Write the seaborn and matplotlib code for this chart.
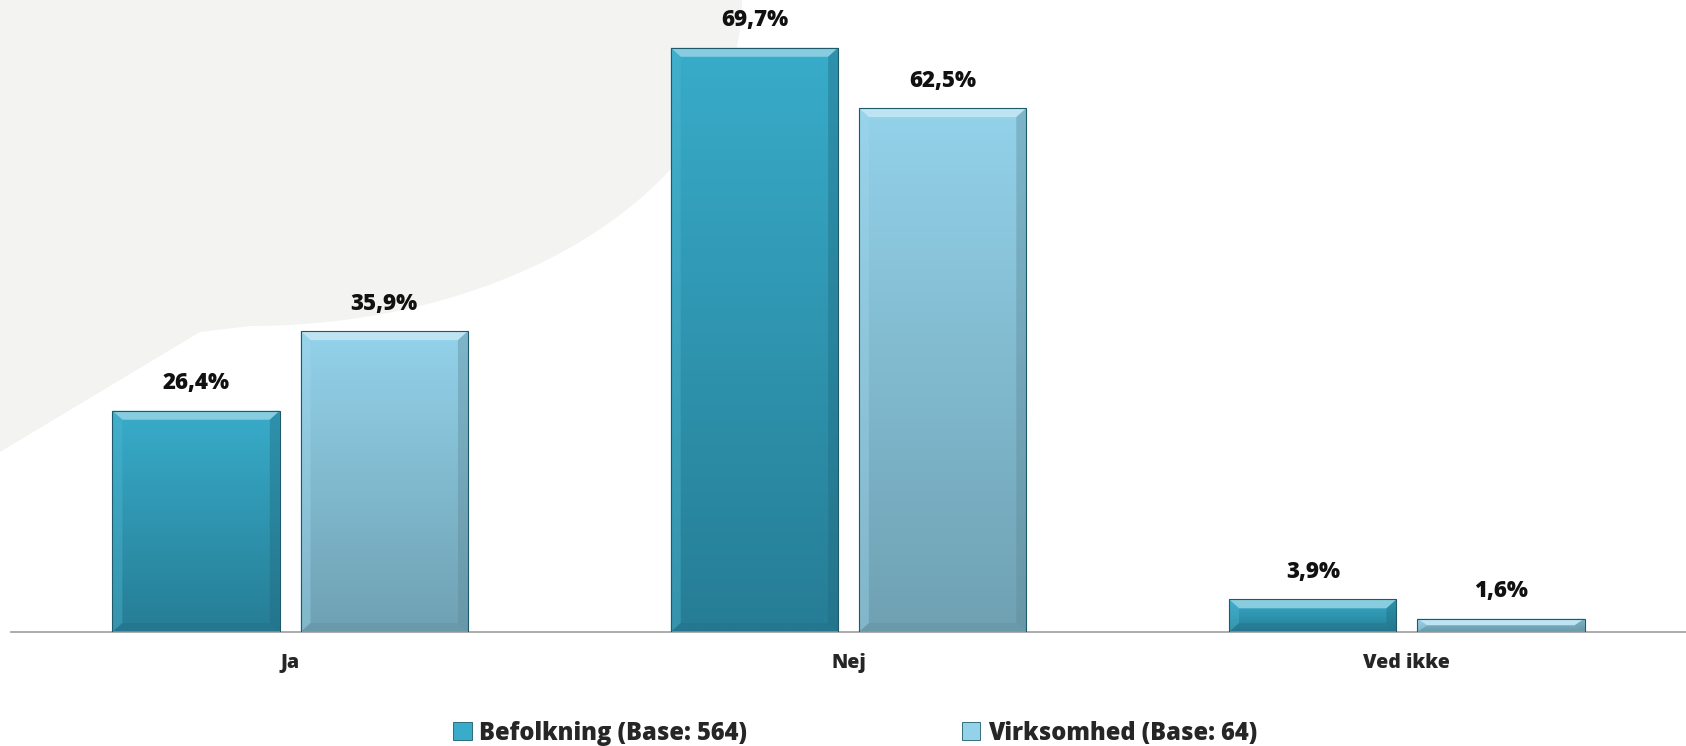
import numpy as np
import pandas as pd
import seaborn as sns
import matplotlib.pyplot as plt
from matplotlib.path import Path
from matplotlib.patches import PathPatch, Polygon, Patch
from matplotlib.colors import to_rgb

svar = ["Ja", "Nej", "Ved ikke"]
befolkning = [26.4, 69.7, 3.9]
virksomhed = [35.9, 62.5, 1.6]
grupper = ["Befolkning (Base: 564)", "Virksomhed (Base: 64)"]

df = pd.DataFrame({
    "svar": svar * 2,
    "pct": befolkning + virksomhed,
    "gruppe": [grupper[0]] * 3 + [grupper[1]] * 3,
})

# top / bottom colours of the gradient per series
farver = {
    grupper[0]: ("#38acca", "#267d95"),
    grupper[1]: ("#93d2ea", "#6fa1b3"),
}

sns.set_style("white")
plt.rcParams["font.family"] = ["Open Sans", "DejaVu Sans"]

W, H = 1686, 746
fig = plt.figure(figsize=(W / 100, H / 100), dpi=100)
ax = fig.add_axes([11 / W, (H - 632) / H, 1675 / W, 632 / H])
ax.set_facecolor("none")

# grey decorative shape in top left corner (behind everything)
t = np.linspace(0, np.pi / 2, 60)
arc = np.column_stack([250 + 492 * np.cos(t), 326 * np.sin(t)])
pts = np.vstack([[[0, 0], [742, 0]], arc, [[200, 332], [0, 452], [0, 0]]])
pts = np.column_stack([pts[:, 0] / W, 1 - pts[:, 1] / H])
ax.add_patch(PathPatch(Path(pts), transform=fig.transFigure, clip_on=False,
                       facecolor="#f3f3f1", edgecolor="none", zorder=0))

sns.barplot(data=df, x="svar", y="pct", hue="gruppe", width=0.674, gap=0.11,
            palette=[farver[g][1] for g in grupper], ax=ax, legend=False)

ax.set_xlim(-0.5, 2.5)
ax.set_ylim(0, 75.4)

px_x = 1 / 558
px_y = 75.4 / 632

for cont, g in zip(ax.containers, grupper):
    top, bot = farver[g]
    ct, cb = np.array(to_rgb(top)), np.array(to_rgb(bot))
    for bar, v in zip(cont, cont.datavalues):
        x0, w, h = bar.get_x(), bar.get_width(), bar.get_height()
        grad = np.linspace(ct, cb, 100)[:, None, :]
        im = ax.imshow(grad, extent=[x0, x0 + w, 0, h], aspect="auto",
                       zorder=2, interpolation="bilinear")
        im.set_clip_path(bar)
        bar.set_facecolor("none")
        bar.set_edgecolor("#1f5a6a")
        bar.set_linewidth(0.8)
        bar.set_zorder(4)
        # bevel
        bx = 10 * px_x
        by = min(9 * px_y, h / 2)
        lys = tuple(np.clip(ct + 0.4 * (1 - ct), 0, 1))
        side = tuple(np.clip(ct + 0.12 * (1 - ct), 0, 1))
        mork = tuple(cb * 0.85)
        ax.add_patch(Polygon([[x0, h], [x0 + w, h], [x0 + w - bx, h - by], [x0 + bx, h - by]],
                             facecolor=lys, edgecolor="none", zorder=3))
        ax.add_patch(Polygon([[x0, 0], [x0 + w, 0], [x0 + w - bx, by], [x0 + bx, by]],
                             facecolor=mork, edgecolor="none", zorder=3, alpha=0.3))
        ax.add_patch(Polygon([[x0, 0], [x0, h], [x0 + bx, h - by], [x0 + bx, by]],
                             facecolor=side, edgecolor="none", zorder=3, alpha=0.4))
        ax.add_patch(Polygon([[x0 + w, 0], [x0 + w, h], [x0 + w - bx, h - by], [x0 + w - bx, by]],
                             facecolor=mork, edgecolor="none", zorder=3, alpha=0.4))
        ax.annotate(f"{v:.1f}".replace(".", ",") + "%", (x0 + w / 2, h),
                    xytext=(0, 11), textcoords="offset points", ha="center",
                    va="bottom", fontsize=16, fontweight="heavy", color="#111111")

sns.despine(ax=ax, left=True)
ax.spines["bottom"].set_color("#a6a6a6")
ax.spines["bottom"].set_linewidth(1.3)
ax.set_yticks([])
ax.set_xlabel("")
ax.set_ylabel("")
ax.tick_params(axis="x", length=0, pad=15, labelsize=14)
for lbl in ax.get_xticklabels():
    lbl.set_fontweight("heavy")

handles = [Patch(facecolor=farver[g][0], edgecolor="#1f5a6a", linewidth=0.6) for g in grupper]
fig.legend(handles, grupper, loc="center", bbox_to_anchor=(0.507, 1 - 733 / H), ncol=2,
           frameon=False, prop={"weight": "heavy", "size": 17},
           handlelength=0.8, handleheight=0.8, handletextpad=0.3, columnspacing=9.1)

fig.savefig("out.png", dpi=100)
